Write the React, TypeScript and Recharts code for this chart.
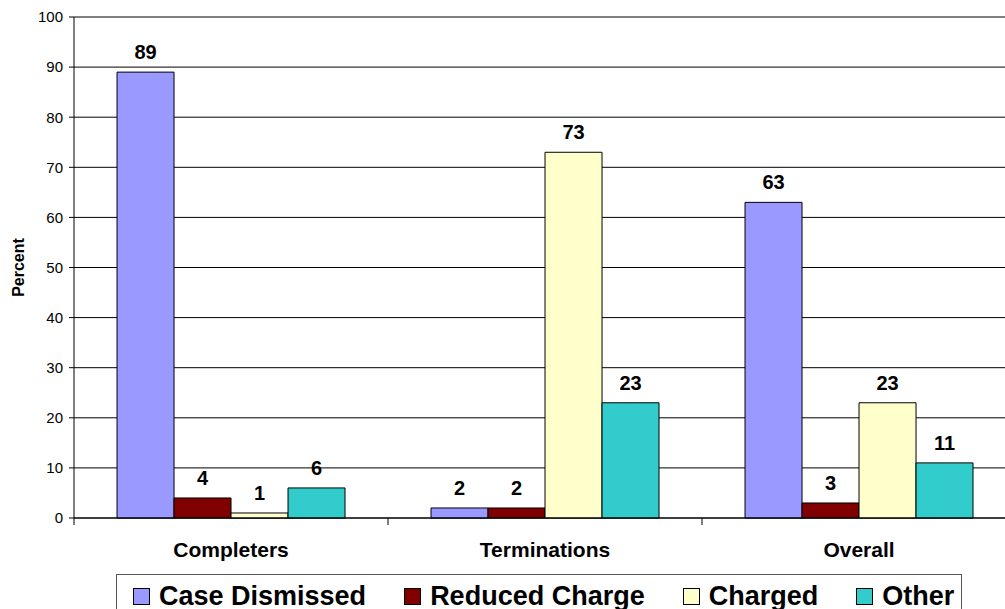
import { BarChart, Bar, XAxis, YAxis, CartesianGrid, LabelList } from "recharts";

const categories = ["Completers", "Terminations", "Overall"];
const caseDismissed = [89, 2, 63];
const reducedCharge = [4, 2, 3];
const charged = [1, 73, 23];
const other = [6, 23, 11];
const yTicks = [0, 10, 20, 30, 40, 50, 60, 70, 80, 90, 100];

const SERIES = [
  { key: "caseDismissed", name: "Case Dismissed", color: "#9999FF" },
  { key: "reducedCharge", name: "Reduced Charge", color: "#800000" },
  { key: "charged", name: "Charged", color: "#FFFFCC" },
  { key: "other", name: "Other", color: "#33CCCC" },
];

const data = categories.map((name, i) => ({
  name,
  caseDismissed: caseDismissed[i],
  reducedCharge: reducedCharge[i],
  charged: charged[i],
  other: other[i],
}));

const FONT = "Arial, 'Liberation Sans', Helvetica, sans-serif";

function CategoryTick(props: any) {
  const { x, y, payload } = props;
  const half = payload?.offset ?? 0;
  return (
    <g>
      <line x1={x - half} x2={x - half} y1={y} y2={y + 7} stroke="#000" />
      <text
        x={x}
        y={y + 39}
        textAnchor="middle"
        fontFamily={FONT}
        fontWeight="bold"
        fontSize={21}
        fill="#000"
      >
        {payload.value}
      </text>
    </g>
  );
}

function LegendBox() {
  return (
    <div
      style={{
        position: "absolute",
        left: 116,
        top: 574,
        width: 846,
        height: 50,
        border: "1px solid #555",
        boxSizing: "border-box",
        display: "flex",
        alignItems: "flex-start",
        paddingTop: 7,
        paddingLeft: 16,
        gap: 38,
        fontFamily: FONT,
        fontWeight: "bold",
        fontSize: 27,
        lineHeight: "28px",
        whiteSpace: "nowrap",
        background: "#fff",
      }}
    >
      {SERIES.map((s) => (
        <div
          key={s.key}
          style={{ display: "flex", alignItems: "center", gap: 9, flexShrink: 0 }}
        >
          <span
            style={{
              display: "inline-block",
              width: 15,
              height: 15,
              background: s.color,
              border: "1px solid #000",
              flexShrink: 0,
            }}
          />
          <span>{s.name}</span>
        </div>
      ))}
    </div>
  );
}

export default function App() {
  return (
    <div
      style={{
        position: "absolute",
        left: 0,
        top: 0,
        width: 1005,
        height: 609,
        overflow: "hidden",
        background: "#fff",
      }}
    >
      <BarChart
        width={1030}
        height={609}
        data={data}
        margin={{ top: 17, right: 14, left: 0, bottom: 31 }}
        barCategoryGap="13.7%"
        barGap={0}
      >
        <CartesianGrid horizontal vertical={false} stroke="#000" />
        <XAxis
          dataKey="name"
          axisLine={{ stroke: "#000" }}
          tickLine={false}
          tickSize={0}
          tickMargin={0}
          height={60}
          interval={0}
          tick={<CategoryTick />}
        />
        <YAxis
          domain={[0, 100]}
          ticks={yTicks}
          interval={0}
          width={74}
          axisLine={{ stroke: "#000" }}
          tickLine={{ stroke: "#000" }}
          tickSize={5}
          tickMargin={6}
          tick={{ fontFamily: FONT, fontSize: 15, fill: "#000" }}
          label={{
            value: "Percent",
            angle: -90,
            position: "insideLeft",
            offset: 18,
            style: { fontFamily: FONT, fontWeight: "bold", fontSize: 16, fill: "#000", textAnchor: "middle" },
          }}
        />
        {SERIES.map((s) => (
          <Bar
            key={s.key}
            dataKey={s.key}
            name={s.name}
            fill={s.color}
            stroke="#000"
            strokeWidth={1}
            isAnimationActive={false}
          >
            <LabelList
              dataKey={s.key}
              position="top"
              offset={13}
              style={{ fontFamily: FONT, fontWeight: "bold", fontSize: 20, fill: "#000" }}
            />
          </Bar>
        ))}
      </BarChart>
      <LegendBox />
    </div>
  );
}
